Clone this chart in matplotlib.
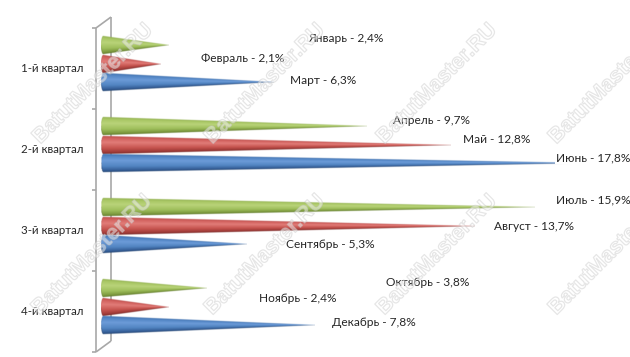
import numpy as np
import matplotlib
matplotlib.use("Agg")
import matplotlib.pyplot as plt
import matplotlib.patheffects as pe

quarters = ["1-й квартал", "2-й квартал", "3-й квартал", "4-й квартал"]
months = ["Январь", "Февраль", "Март", "Апрель", "Май", "Июнь",
          "Июль", "Август", "Сентябрь", "Октябрь", "Ноябрь", "Декабрь"]
shares = [2.4, 2.1, 6.3, 9.7, 12.8, 17.8, 15.9, 13.7, 5.3, 3.8, 2.4, 7.8]

# layout of the picture, in pixels
W, H = 630, 357
X0_PX, PCT_PX = 103, 27.1       # zero of the value axis, pixels per percent
Y0_PX, BAND_PX = 28, 81         # top of the first quarter, height of a quarter
CONE_OFFSETS = [-0.29, -0.06, 0.165]
CONE_HALF = 0.113
CAP_WIDTH = 0.08
LABEL_POS = [(308, 38), (201, 59), (290, 81), (393, 120), (463, 139), (556, 158),
             (556, 200), (494, 226), (286, 245), (386, 282), (259, 299), (332, 322)]
MARK_POS = [(93, 84), (265, 84), (437, 84), (609, 84),
            (92, 255), (265, 255), (437, 255), (609, 255)]

SHADE_T = [-1.0, -0.75, -0.3, 0.35, 0.8, 1.0]
SHADES = [
    ["#94b352", "#a9c765", "#b9d379", "#9fbf5c", "#7d9a3f", "#5f7a28"],
    ["#bd4e4b", "#d2625f", "#e17c78", "#c6544f", "#a03b38", "#7a2826"],
    ["#4172b0", "#5487c6", "#6c9bd8", "#5285c2", "#365f98", "#224473"],
]


def px_x(x):
    return (x - X0_PX) / PCT_PX


def px_y(y):
    return (y - Y0_PX) / BAND_PX


def hex_rgb(c):
    return [int(c[i:i + 2], 16) / 255 for i in (1, 3, 5)]


def draw_cone(ax, value, yc, shade):
    """Cone lying on its side: shaded RGBA image with soft edges."""
    xs = np.linspace(-CAP_WIDTH, value, 900)
    ys = np.linspace(yc - CONE_HALF - 0.01, yc + CONE_HALF + 0.01, 90)
    X, Y = np.meshgrid(xs, ys)
    half = CONE_HALF * np.clip(1 - X / value, 0, 1)
    cap = X < 0
    half[cap] = CONE_HALF * np.sqrt(np.clip(1 - (X[cap] / CAP_WIDTH) ** 2, 0, 1))
    dy = Y - yc
    t = np.clip(dy / np.maximum(half, 1e-4), -1, 1)
    rgb = np.array([hex_rgb(c) for c in shade])
    img = np.zeros(X.shape + (4,))
    for k in range(3):
        img[..., k] = np.interp(t, SHADE_T, rgb[:, k])
    img[..., 3] = np.clip((half - np.abs(dy)) * BAND_PX + 0.5, 0, 1)
    ax.imshow(img, extent=(xs[0], xs[-1], ys[-1], ys[0]), aspect="auto",
              interpolation="bilinear", zorder=3)


def draw_walls(ax, n_bands):
    """Grey 3D frame of the category axis."""
    wall = dict(color="#a8a8a8", lw=1.2, zorder=1, solid_capstyle="butt")
    front, back = px_x(96), px_x(111)
    dy = 11 / BAND_PX
    ax.plot([front, front], [0, n_bands], **wall)
    ax.plot([back, back], [-dy, n_bands - dy], **wall)
    ax.plot([front, back], [0, -dy], **wall)
    ax.plot([front, back], [n_bands, n_bands - dy], **wall)
    for i in range(n_bands + 1):
        ax.plot([px_x(92), front], [i, i], **wall)


fig = plt.figure(figsize=(W / 100, H / 100), dpi=100)
ax = fig.add_axes([0, 0, 1, 1])
plt.rcParams["font.family"] = ["Lato", "DejaVu Sans"]

draw_walls(ax, len(quarters))

for i, q in enumerate(quarters):
    for j, off in enumerate(CONE_OFFSETS):
        draw_cone(ax, shares[i * 3 + j], i + 0.5 + off, SHADES[j])
    ax.text(px_x(83), i + 0.5, q, ha="right", va="center", fontsize=8.3,
            color="#262626", zorder=5)

for m, v, (lx, ly) in zip(months, shares, LABEL_POS):
    label = f"{m} - {v:.1f}%".replace(".", ",")
    ax.text(px_x(lx), px_y(ly), label, ha="left", va="center", fontsize=8.6,
            color="#262626", zorder=5,
            bbox=dict(facecolor="white", edgecolor="none", pad=0.6))

# watermark sits on top of everything
for mx, my in MARK_POS:
    t = ax.text(px_x(mx), px_y(my), "BatutMaster.RU", ha="center", va="center",
                rotation=45, rotation_mode="anchor", fontsize=15.5, fontweight="bold",
                family="Liberation Sans", color="white", zorder=8)
    t.set_path_effects([pe.Stroke(linewidth=0.9, foreground="#c8c8c8", alpha=0.45)])

ax.set_xlim(px_x(0), px_x(W))
ax.set_ylim(px_y(H), px_y(0))
ax.axis("off")

fig.savefig("out.png", dpi=100, facecolor="white")
